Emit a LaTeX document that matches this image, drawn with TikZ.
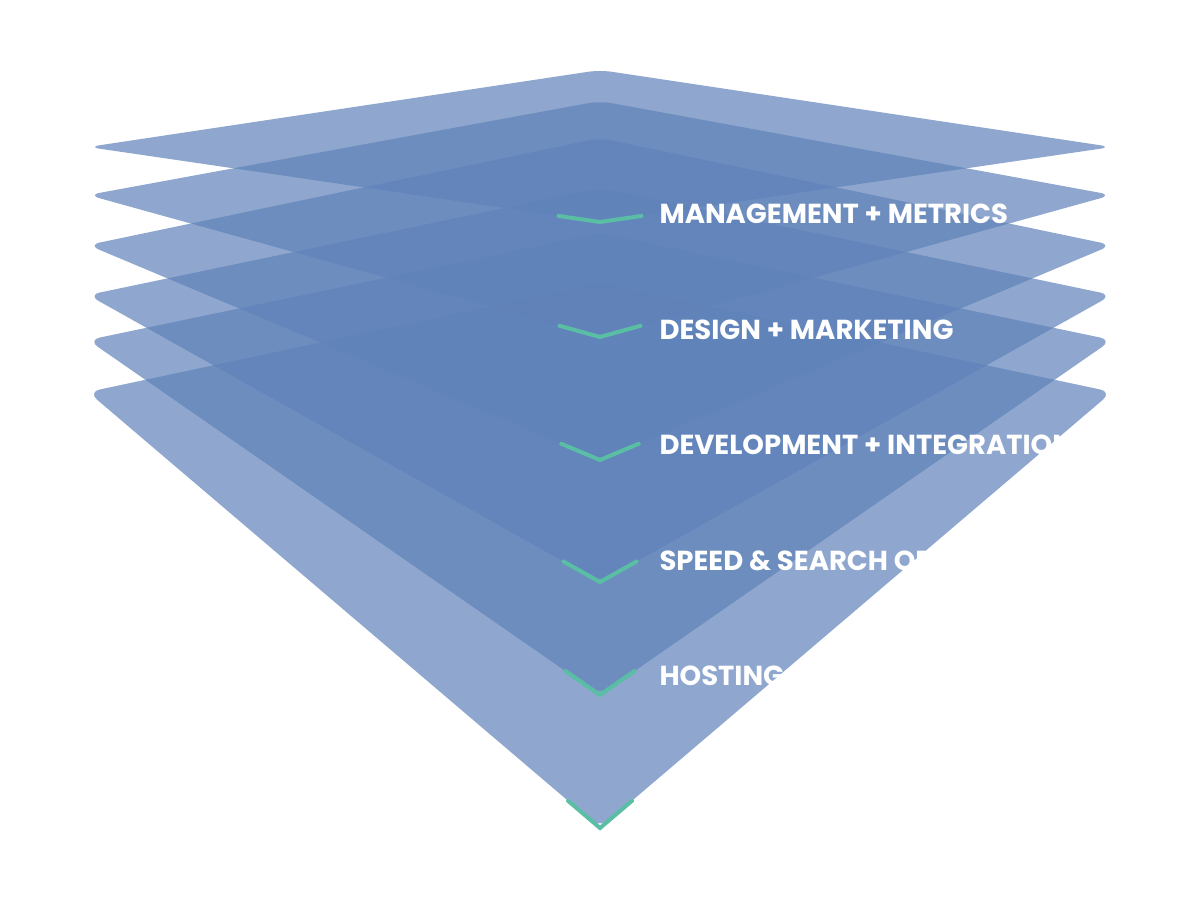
\documentclass[tikz,border=0pt]{standalone}
\usepackage{fontspec}
\setmainfont{Poppins}
\usetikzlibrary{calc}
\definecolor{layerblue}{RGB}{95,130,185}
\definecolor{tipgreen}{RGB}{90,190,165}
\begin{document}
\begin{tikzpicture}[x=1pt,y=-1pt]
	\useasboundingbox (0,0) rectangle (1200,900);
	\tikzset{layer/.style={fill=layerblue,fill opacity=0.7,rounded corners=12pt},
		tip/.style={draw=tipgreen,line width=4pt,line cap=round},
		tag/.style={anchor=west,text=white,font=\bfseries\fontsize{27.5}{32}\selectfont}}

	% Draw layers, top to bottom
	\foreach \top/\side/\bot/\name in {70/147/222/a,101/195/337/b,138/245/460/c,188/295/582/d,233/340/695/e,283/392/828/f}{
		\coordinate (\name T) at (600,\top);
		\coordinate (\name L) at (88,\side);
		\coordinate (\name R) at (1112,\side);
		\coordinate (\name B) at (600,\bot);
		\path[layer] (\name T) -- (\name R) -- (\name B) -- (\name L) -- cycle;
	}

	% Green tips at bottom corners
	\foreach \name in {a,b,c,d,e,f}{
		\draw[tip] ($(\name B)!42pt!(\name L)$) -- (\name B) -- ($(\name B)!42pt!(\name R)$);
	}

	% Labels
	\node[tag] (ta) at (656,214) {MANAGEMENT + METRICS};
	\node[tag] (tb) at (656,330) {DESIGN + MARKETING};
	\node[tag] (tc) at (656,445) {DEVELOPMENT + INTEGRATION};
	\node[tag] (td) at (656,561) {SPEED \& SEARCH OPTIMIZATION};
	\node[tag] (te) at (656,676) {HOSTING + MAINTENANCE};
\end{tikzpicture}
\end{document}
